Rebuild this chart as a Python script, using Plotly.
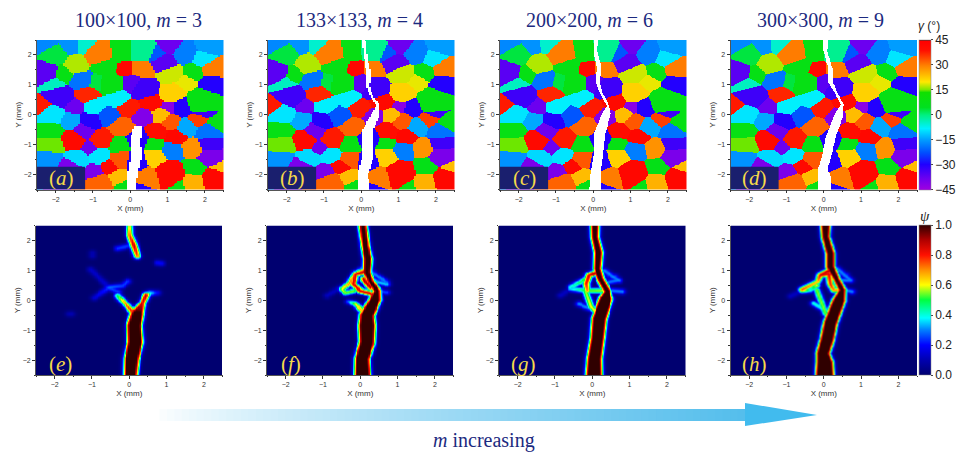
import numpy as np
import plotly.graph_objects as go

W, H = 956, 452

panel_letters = ["a", "b", "c", "d", "e", "f", "g", "h"]
grid_sizes = [100, 133, 200, 300]
titles = ["100×100, <i>m</i> = 3", "133×133, <i>m</i> = 4", "200×200, <i>m</i> = 6", "300×300, <i>m</i> = 9"]
title_centres = [138, 359, 589, 820]
tick_values = [-2, -1, 0, 1, 2]

# Grain centres (mm), grain radius (mm) and orientation (deg)
grain_x = [-2.21,-2.04,-1.66,-1.13,-.86,-.27,.34,1.04,.67,1.45,1.99,2.12,-2.28,-1.84,-1.46,-.69,-.54,-.18,.34,.90,1.08,1.69,2.21,-2.05,-1.29,-.86,.04,.39,1.09,1.46,2.18,1.92,-2.29,-1.90,-1.14,-.34,-.96,-1.53,-2.12,-1.61,-1.06,-.58,-.05,.54,.31,.81,1.05,1.41,1.95,1.81,2.33,-2.15,-2.12,-1.23,-1.51,-.77,-.25,.69,1.10,1.51,2.09,-1.12,-.31,.63,1.22,1.15,1.63,2.12,-2.15,-1.44,-.82,-.29,.65,2.15,-1.61,-.55,.18,.18,1.05,1.70,2.35,-.97,-.33,.46,-.83,-.19,.36,1.32,1.67,2.21]
grain_y = [2.25,2.01,2.25,2.27,2.05,2.12,2.14,2.30,2.03,2.05,1.87,2.25,1.44,1.38,1.70,1.63,1.05,1.51,1.52,1.72,1.38,1.44,1.59,1.08,1.16,1.09,1.05,.87,.77,1.10,1.03,.44,.22,.60,.70,.56,.30,.30,.04,-.18,-.21,-.04,.23,.48,-.04,0,.28,.26,.16,-.15,-.26,-.51,-1.02,-.53,-.85,-.79,-.39,-.55,-.22,-.39,-.57,-1.07,-.96,-.96,-.73,-1.17,-1.10,-.94,-1.41,-1.45,-1.35,-1.48,-1.41,-1.38,-1.69,-1.71,-.80,-1.55,-1.94,-1.77,-1.71,-1.91,-2.06,-2.08,-2.24,-2.29,-2.32,-2.29,-2.23,-2.11]
grain_radius = [.27,.37,.245,.28,.40,.30,.37,.28,.29,.32,.33,.31,.39,.30,.34,.33,.38,.22,.28,.35,.35,.28,.35,.28,.31,.29,.30,.39,.35,.27,.31,.45,.30,.37,.30,.31,.30,.25,.37,.27,.30,.32,.31,.32,.29,.25,.21,.30,.31,.28,.30,.32,.35,.30,.33,.33,.34,.28,.27,.30,.33,.25,.30,.25,.28,.30,.31,.32,.34,.32,.27,.29,.31,.34,.32,.26,.32,.32,.42,.31,.22,.26,.27,.34,.32,.20,.20,.23,.34,.34]
grain_angle = [-17,3,-16,-5,30,8,-1,-38,-22,-18,-9,-15,-36,8,17,8,8,42,30,-36,18,8,30,-4,-19,3,-36,-33,22,19,-30,8,38,-33,37,-8,-8,-38,-9,-14,-30,-22,38,41,-41,24,-42,-30,-33,35,8,8,15,-38,41,38,32,40,33,-14,-19,-38,8,8,42,-18,28,-33,-16,-10,-9,33,22,-40,-40,41,-30,-30,42,7,24,-40,24,30,32,8,-30,8,25,42]

# Crack branches: (x mm, y mm, half width of the open crack mm, peak damage)
cracks_e = [
    [(.02,-2.5,.1,1),(.05,-1.95,.12,1),(.15,-1.39,.13,1),(.125,-.84,.12,1),(.2,-.45,.1,1),(.35,-.06,0,.85),(.44,.19,0,.9),(.53,.26,0,.4),(.75,.27,0,.2)],
    [(.125,-.45,0,.85),(-.14,-.06,0,.7),(-.32,.17,0,.5)],
    [(0,2.5,0,.6),(0,2.2,0,.75),(.11,1.85,0,.9),(.2,1.5,0,.75)],
    [(-.32,1.75,0,.25),(0,1.85,0,.25)],
    [(.75,1.27,0,.2),(.85,1.25,0,.2)],
    [(-1.0,1.6,0,.1),(-1.0,1.5,0,.1)],
    [(-1.05,1.05,0,.13),(-.8,.75,0,.13),(-.6,.5,0,.15)],
    [(-.55,.45,0,.3),(-.2,.5,0,.25),(-.05,.65,0,.25)],
    [(-.95,.1,0,.15),(-.55,.45,0,.25)],
    [(-.3,.3,0,.25),(-.6,.45,0,.25)],
    [(-1.63,-.45,0,.1),(-1.55,-.45,0,.1)],
]
cracks_f = [
    [(.05,-2.5,.14,1),(.04,-1.95,.12,1),(.17,-1.39,.13,1),(.17,-.84,.15,1),(.17,-.5,.12,1),(.39,.05,.08,1),(.44,.33,.02,1),(.26,.67,.015,1),(.17,.95,.03,1),(.19,1.39,.04,1),(.125,1.84,.03,1),(.06,2.5,.03,1)],
    [(.17,1.0,0,.9),(-.14,.89,0,.85),(-.2,.56,0,.85),(-.01,.33,0,.85),(.21,.26,0,.85),(.39,.17,0,.85)],
    [(-.14,.89,0,.7),(-.32,.56,0,.7),(-.5,.39,0,.6),(-.41,.26,0,.55),(-.19,.33,0,.55)],
    [(.08,-.39,0,.7),(-.14,-.11,0,.6),(-.32,-.03,0,.3)],
    [(.08,.72,0,.9),(.26,.44,0,.9)],
    [(.3,.95,0,.3),(.7,.61,0,.3)],
    [(.35,.67,0,.35),(.7,.55,0,.35)],
    [(.42,.85,0,.25),(.55,.75,0,.25)],
    [(.48,.33,0,.25),(.7,.28,0,.25)],
    [(-.55,.44,0,.12),(-.9,.17,0,.12)],
    [(.17,1.2,0,.3),(-.1,.95,0,.3)],
]
cracks_g = [
    [(.04,-2.5,.14,1),(.05,-1.95,.12,1),(.125,-1.28,.11,1),(.17,-.61,.12,1),(.35,.05,.1,1),(.39,.3,.02,1),(.21,.72,.015,1),(.125,1.06,.03,1),(.15,1.61,.04,1),(.06,2.12,.03,1),(.06,2.5,.04,1)],
    [(.125,.95,0,.9),(-.1,.84,0,.85),(-.17,.56,0,.8),(-.14,.33,0,.7)],
    [(-.1,.78,0,.55),(-.59,.44,0,.4)],
    [(-.59,.39,0,.35),(-.14,.33,0,.55),(.39,.33,0,.6)],
    [(-.19,.33,0,.55),(-.05,-.2,0,.6),(.08,-.39,0,.6)],
    [(-.37,-.11,0,.3),(-.05,-.28,0,.3)],
    [(.3,1.0,0,.3),(.7,.67,0,.3)],
    [(.35,.6,0,.3),(.66,.67,0,.3)],
    [(.42,.85,0,.25),(.6,.8,0,.25)],
    [(.53,.33,0,.3),(.8,.3,0,.3)],
    [(-.59,.41,0,.12),(-.86,.17,0,.12)],
]
cracks_h = [
    [(.02,-2.5,.17,1),(.02,-2.1,.15,1),(-.03,-1.78,.1,1),(.08,-1.33,.11,1),(.17,-.77,.11,1),(.4,0,.1,1),(.49,.35,.02,1),(.35,.68,.015,1),(.17,1.13,.04,1),(.17,1.57,.04,1),(.04,2.13,.03,1),(.04,2.5,.05,1)],
    [(.17,1.02,0,.9),(-.1,.85,0,.85),(-.17,.63,0,.65),(-.59,.37,0,.75)],
    [(-.59,.35,0,.7),(-.37,.35,0,.4),(-.19,.51,0,.6)],
    [(-.1,.85,0,.85),(.13,.9,0,.85),(.17,.55,0,.8),(.26,.35,0,.7),(.35,.35,0,.7)],
    [(-.19,.35,0,.55),(.04,-.44,0,.55)],
    [(-.28,-.1,0,.4),(-.05,-.27,0,.4)],
    [(.35,1.07,0,.3),(.71,.68,0,.3)],
    [(.44,.68,0,.3),(.71,.68,0,.3)],
    [(.42,.9,0,.25),(.6,.85,0,.25)],
    [(.58,.35,0,.3),(.75,.3,0,.3)],
    [(-.59,.33,0,.12),(-.9,.15,0,.12)],
]
panel_cracks = [cracks_e, cracks_f, cracks_g, cracks_h]

gamma_colors = [(0,"#a000e0"),(.08,"#6a00f0"),(.17,"#2000ff"),(.25,"#0050ff"),(.33,"#0099ff"),(.41,"#00f0ff"),(.5,"#00f080"),(.55,"#00e020"),(.65,"#10e000"),(.67,"#80e800"),(.72,"#ffe800"),(.83,"#ff8000"),(.93,"#ff1000"),(.992,"#ff0000"),(1,"#400000")]
psi_colors = [(0,"#000070"),(.1,"#0000b0"),(.2,"#0000ff"),(.3,"#0080ff"),(.38,"#00ffff"),(.5,"#00ff40"),(.6,"#ffff00"),(.7,"#ff9000"),(.8,"#ff1000"),(.9,"#b00000"),(1,"#300000")]

BLUR = 0.10


def damage(xx, yy, branches):
    out = np.zeros_like(xx)
    for b in branches:
        b = np.array(b, float)
        for p, q in zip(b[:-1], b[1:]):
            dx, dy = q[0] - p[0], q[1] - p[1]
            t = np.clip(((xx - p[0]) * dx + (yy - p[1]) * dy) / (dx * dx + dy * dy), 0, 1)
            d = np.hypot(xx - p[0] - t * dx, yy - p[1] - t * dy)
            hw = p[2] + t * (q[2] - p[2])
            pk = p[3] + t * (q[3] - p[3])
            val = np.where(d <= hw, pk, pk * np.exp(-((d - hw) / BLUR) ** 2))
            out = np.maximum(out, val)
    return out


def grains(xx, yy):
    gx, gy, gr, ga = map(lambda v: np.array(v, float), (grain_x, grain_y, grain_radius, grain_angle))
    power = (xx[..., None] - gx) ** 2 + (yy[..., None] - gy) ** 2 - gr ** 2
    return ga[np.argmin(power, axis=-1)]


top_left = [37, 268, 500, 730.5]
bot_left = [36, 267, 499, 730.5]
PW = 186.5
TOP = (40, 189.5)
BOT = (225.5, 375)

fig = go.Figure()
layout = {}
shapes, annots = [], []


def add_axes(i, x0, y0, y1):
    sx = "" if i == 0 else str(i + 1)
    axis = dict(range=[-2.5, 2.5], tickvals=tick_values, ticks="outside", ticklen=3, tickwidth=0.7,
                tickcolor="#333", showline=True, linewidth=0.8, linecolor="#555", showgrid=False,
                zeroline=False, tickfont=dict(family="Liberation Sans", size=7, color="#333"),
                minor=dict(dtick=0.5, ticks="outside", ticklen=1.5, tickcolor="#333", tickwidth=0.6, showgrid=False))
    layout["xaxis" + sx] = dict(axis, domain=[x0 / W, (x0 + PW) / W], anchor="y" + sx,
                                title=dict(text="X (mm)", standoff=3, font=dict(family="Liberation Sans", size=8, color="#333")))
    layout["yaxis" + sx] = dict(axis, domain=[1 - y1 / H, 1 - y0 / H], anchor="x" + sx,
                                title=dict(text="Y (mm)", standoff=0, font=dict(family="Liberation Sans", size=8, color="#333")))
    return "x" + sx, "y" + sx


def note(text, x, y, size, color, family="Liberation Serif"):
    return dict(text=text, xref="paper", yref="paper", x=x / W, y=1 - y / H, showarrow=False,
                xanchor="center", yanchor="middle", font=dict(family=family, size=size, color=color))


for col in range(4):
    n = grid_sizes[col]
    c = (np.arange(n) + .5) / n * 5 - 2.5
    xx, yy = np.meshgrid(c, c)
    psi = damage(xx, yy, panel_cracks[col])
    gamma = grains(xx, yy)
    gamma[psi >= 0.97] = np.nan

    xa, ya = add_axes(col, top_left[col], *TOP)
    tr = dict(x=c, y=c, z=gamma, zmin=-45, zmax=45, colorscale=gamma_colors, xaxis=xa, yaxis=ya,
              hoverongaps=False, showscale=col == 3)
    if col == 3:
        tr["colorbar"] = dict(x=919 / W, xanchor="left", y=1 - sum(TOP) / 2 / H, yanchor="middle",
                              len=(TOP[1] - TOP[0]) / H, thickness=12, xpad=0, ypad=0,
                              tickvals=[-45, -30, -15, 0, 15, 30, 45], ticks="outside", ticklen=2,
                              outlinewidth=0.5, outlinecolor="#888",
                              tickfont=dict(family="Liberation Sans", size=12, color="#222"))
    fig.add_trace(go.Heatmap(**tr))

    xb, yb = add_axes(col + 4, bot_left[col], *BOT)
    tr = dict(x=c, y=c, z=psi, zmin=0, zmax=1, colorscale=psi_colors, xaxis=xb, yaxis=yb,
              zsmooth="best", showscale=col == 3)
    if col == 3:
        tr["colorbar"] = dict(x=919 / W, xanchor="left", y=1 - sum(BOT) / 2 / H, yanchor="middle",
                              len=(BOT[1] - BOT[0]) / H, thickness=12, xpad=0, ypad=0,
                              tickvals=[0, .2, .4, .6, .8, 1], tickformat=".1f", ticks="outside", ticklen=2,
                              outlinewidth=0.5, outlinecolor="#888",
                              tickfont=dict(family="Liberation Sans", size=12, color="#222"))
    fig.add_trace(go.Heatmap(**tr))

    shapes.append(dict(type="rect", xref=xa, yref=ya, x0=-2.5, x1=-1.21, y0=-2.5, y1=-1.74,
                       fillcolor="#1a1f6e", line=dict(width=0)))
    for letter, a, b in ((panel_letters[col], xa, ya), (panel_letters[col + 4], xb, yb)):
        annots.append(dict(text=f"(<i>{letter}</i>)", xref=a, yref=b, x=-1.85, y=-2.13, showarrow=False,
                           font=dict(family="Liberation Serif", size=21, color="#f5d94a")))
    annots.append(note(titles[col], title_centres[col], 20, 20, "#1c2a80"))

annots.append(note("<i>γ</i> (°)", 929, 26, 12, "#222", "Liberation Sans"))
annots.append(note("<i>ψ</i>", 925, 216, 15, "#222"))
annots.append(note("<i>m</i> increasing", 484, 440, 20, "#1c2a80"))

# Arrow with a white to sky blue fade
ARROW_Y = 415
SHAFT_END = (85, 190, 236)
steps = 80
for k in range(steps):
    f = k / (steps - 1)
    shade = tuple(int(round(255 + (e - 255) * f ** 0.8)) for e in SHAFT_END)
    xa0 = 152 + (745 - 152) * k / steps
    xa1 = 152 + (745 - 152) * (k + 1.2) / steps
    shapes.append(dict(type="rect", xref="paper", yref="paper", x0=xa0 / W, x1=xa1 / W,
                       y0=1 - (ARROW_Y + 6) / H, y1=1 - (ARROW_Y - 6) / H,
                       fillcolor="rgb(%d,%d,%d)" % shade, line=dict(width=0)))
shapes.append(dict(type="path", xref="paper", yref="paper", fillcolor="#41bbee", line=dict(width=0),
                   path=f"M {745/W} {1-(ARROW_Y-12)/H} L {817/W} {1-ARROW_Y/H} L {745/W} {1-(ARROW_Y+11)/H} Z"))

fig.update_layout(width=W, height=H, margin=dict(l=0, r=0, t=0, b=0, autoexpand=False), paper_bgcolor="white",
                  plot_bgcolor="white", shapes=shapes, annotations=annots, showlegend=False, **layout)
fig.write_html("out.html", post_script="document.body.style.margin='0';", config={"displayModeBar": False})
